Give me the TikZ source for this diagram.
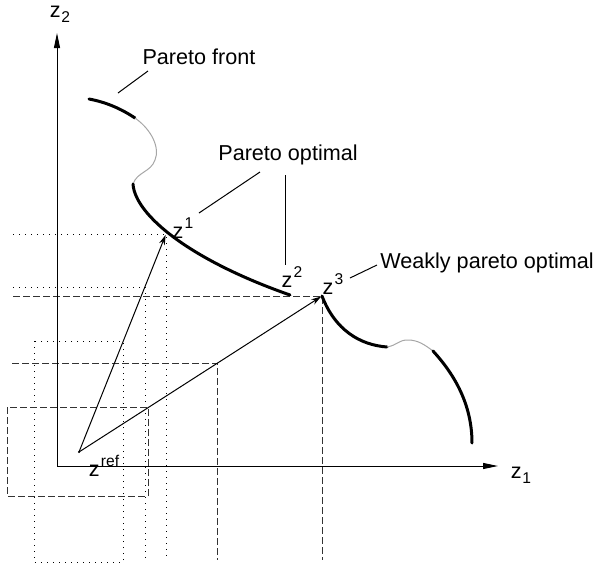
\documentclass[tikz,border=0pt]{standalone}
\usepackage{fontspec}
\setmainfont{Liberation Sans}
\usetikzlibrary{arrows.meta,positioning}
\newcommand{\zup}[1]{\kern0.6pt\raisebox{0.9ex}{\fontsize{7.8pt}{9pt}\selectfont #1}}
\newcommand{\zdown}[1]{\kern0.3pt\raisebox{-0.45ex}{\fontsize{7.8pt}{9pt}\selectfont #1}}
\tikzset{
  front/.style={line width=1.5pt, line cap=round},
  gapline/.style={line width=0.5pt, draw=black!35},
  axis/.style={-{Triangle[length=7.5pt,width=3pt]}, line width=0.5pt},
  refarrow/.style={-{Stealth[length=5pt,width=3pt]}, line width=0.5pt, shorten >=0.5pt},
  leader/.style={line width=0.5pt},
  dotline/.style={line width=0.5pt, dash pattern=on 0.5pt off 2.5pt},
  dashline/.style={line width=0.5pt, dash pattern=on 3.5pt off 1.5pt, draw=black!80},
  lbl/.style={font=\fontsize{10.8pt}{13pt}\selectfont, inner sep=0pt}
}

\begin{document}
\begin{tikzpicture}[x=0.5pt,y=-0.5pt]
  \useasboundingbox (0,0) rectangle (596,568);
  % points of the objective space
  \coordinate (o) at (57,466);
  \coordinate (zref) at (79,452);
  \coordinate (z1) at (166,234);
  \coordinate (z2) at (290,295);
  \coordinate (z3) at (322,296);

  % dominated regions
  \draw[dotline] (13,234) -| (166,560);
  \draw[dotline] (13,287) -| (145,560);
  \draw[dotline] (34,341) rectangle (123,562);
  \draw[dashline] (13,296) -| (322,560);
  \draw[dashline] (12,363) -| (217,560);
  \draw[dashline] (7,407) rectangle (148,496);

  % axes
  \node[lbl] (lz2) at (60,14) {z\zdown{2}};
  \node[lbl] (lz1) at (521,475) {z\zdown{1}};
  \coordinate (ytip) at (57,33);
  \coordinate (xtip) at (498,466);
  \draw[axis] (o) -- (ytip);
  \draw[axis] (o) -- (xtip);

  % pareto front
  \draw[front] (89,99) .. controls (105,102) and (120,108) .. (135,118);
  \draw[gapline] (135,118) .. controls (152,130) and (160,148) .. (155,160)
    .. controls (151,172) and (137,172) .. (133,184);
  \draw[front] (133,184) .. controls (135,215) and (190,260) .. (z2);
  \draw[front] (z3) .. controls (335,330) and (360,345) .. (387,347);
  \draw[gapline] (387,347) .. controls (398,345) and (398,340) .. (408,340)
    .. controls (418,340) and (425,345) .. (433,351);
  \draw[front] (433,351) .. controls (455,375) and (472,405) .. (472,443);

  % reference point
  \fill (zref) circle (1.2);
  \draw[refarrow] (zref) -- (z1);
  \draw[refarrow] (zref) -- (z3);

  % labels
  \node[lbl] (lzref) at (104,466) {z\zup{ref}};
  \node[lbl] (lzone) at (183,228) {z\zup{1}};
  \node[lbl] (lztwo) at (292,277) {z\zup{2}};
  \node[lbl] (lzthree) at (333,284) {z\zup{3}};
  \node[lbl] (front) at (199,57) {Pareto front};
  \node[lbl] (optimal) at (288,155) {Pareto optimal};
  \node[lbl] (weak) at (487,263) {Weakly pareto optimal};

  % leaders
  \coordinate (fa) at (118,93);
  \coordinate (fb) at (148,71);
  \draw[leader] (fa) -- (fb);
  \coordinate (oa) at (199,213);
  \coordinate (ob) at (260,172);
  \draw[leader] (oa) -- (ob);
  \coordinate (oc) at (285,175);
  \coordinate (od) at (285,265);
  \draw[leader] (oc) -- (od);
  \coordinate (wa) at (350,278);
  \coordinate (wb) at (377,265);
  \draw[leader] (wa) -- (wb);
\end{tikzpicture}
\end{document}
